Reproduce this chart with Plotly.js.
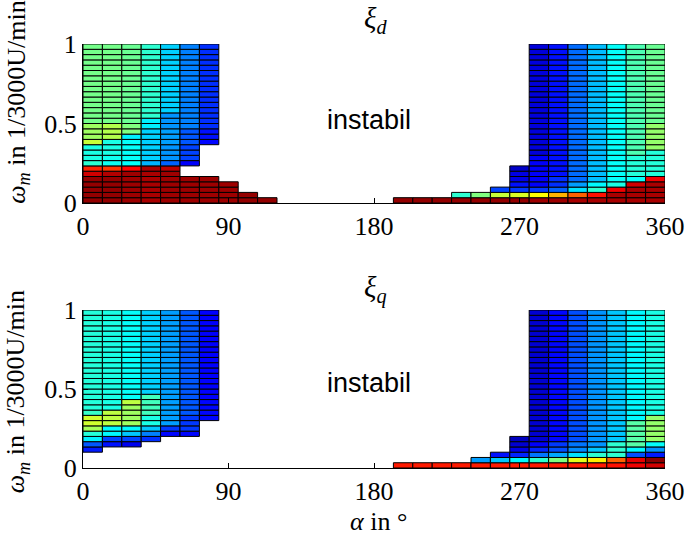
<!DOCTYPE html>
<html>
<head>
<meta charset="utf-8">
<script src="https://cdn.plot.ly/plotly-3.0.1.min.js"></script>
<style>
  body{margin:0;background:#fff;}
  #chart{width:685px;height:540px;}
</style>
</head>
<body>
<div id="chart"></div>
<script>
// grid steps: alpha in 12 deg columns, omega in 1/30 rows
let alpha_step = 12;
let omega_step = 1/30;
let x_ticks = [0, 90, 180, 270, 360];
let y_ticks = [0, 0.5, 1];

// one entry per alpha column, runs of [first row, last row, value] (value on jet scale 0..1)
let xi_d_cols = [
  [[0,4,0.98],[5,5,0.92],[6,6,0.84],[7,7,0.42],[8,10,0.40],[11,11,0.57],[12,14,0.53],[15,29,0.49]],
  [[0,4,0.98],[5,5,0.95],[6,6,0.82],[7,8,0.39],[9,11,0.40],[12,14,0.55],[15,29,0.49]],
  [[0,5,0.97],[6,6,0.87],[7,11,0.38],[12,12,0.36],[13,14,0.50],[15,29,0.48]],
  [[0,6,0.96],[7,7,0.30],[8,13,0.33],[14,15,0.36],[16,29,0.42]],
  [[0,5,0.97],[6,6,0.94],[7,7,0.22],[8,10,0.27],[11,13,0.28],[14,16,0.27],[17,29,0.33]],
  [[0,4,0.97],[7,7,0.12],[8,10,0.19],[11,13,0.21],[14,29,0.25]],
  [[0,4,0.97],[11,11,0.13],[12,13,0.14],[14,29,0.17]],
  [[0,3,0.97]],
  [[0,1,0.98]],
  [[0,0,0.98]],
  [], [], [], [], [], [],
  [[0,0,0.98]],
  [[0,0,0.98]],
  [[0,0,0.98]],
  [[0,0,0.98],[1,1,0.42]],
  [[0,0,0.98],[1,1,0.50]],
  [[0,0,0.98],[1,1,0.57],[2,2,0.19]],
  [[0,0,0.98],[1,1,0.59],[2,2,0.18],[3,3,0.14],[4,5,0.10],[6,6,0.07]],
  [[0,0,0.97],[1,1,0.625],[2,2,0.18],[3,8,0.12],[9,29,0.09]],
  [[0,0,0.97],[1,1,0.70],[2,2,0.22],[3,4,0.17],[5,29,0.14]],
  [[0,0,0.96],[1,1,0.78],[2,2,0.35],[3,3,0.28],[4,29,0.23]],
  [[0,0,0.96],[1,1,0.86],[2,2,0.42],[3,3,0.37],[4,29,0.31]],
  [[0,1,0.96],[2,2,0.89],[3,3,0.40],[4,29,0.38]],
  [[0,2,0.96],[3,3,0.92],[4,4,0.38],[5,8,0.41],[9,29,0.45]],
  [[0,3,0.96],[4,4,0.89],[5,9,0.41],[10,14,0.52],[15,29,0.48]]
];

let xi_q_cols = [
  [[3,3,0.15],[4,4,0.21],[5,5,0.36],[6,6,0.41],[7,7,0.54],[8,9,0.58],[10,10,0.43],[11,29,0.41]],
  [[4,4,0.14],[5,5,0.19],[6,7,0.37],[8,10,0.56],[11,29,0.40]],
  [[4,4,0.11],[5,5,0.19],[6,6,0.32],[7,7,0.37],[8,11,0.53],[12,12,0.56],[13,29,0.38]],
  [[5,5,0.17],[6,6,0.25],[7,7,0.32],[8,9,0.40],[10,13,0.44],[14,29,0.33]],
  [[6,6,0.13],[7,7,0.18],[8,29,0.28]],
  [[6,6,0.13],[7,9,0.18],[10,29,0.21]],
  [[9,12,0.13],[13,29,0.125]],
  [], [], [], [], [], [], [], [], [],
  [[0,0,0.85]],
  [[0,0,0.85]],
  [[0,0,0.85]],
  [[0,0,0.85]],
  [[0,0,0.85],[1,1,0.28]],
  [[0,0,0.85],[1,1,0.32],[2,2,0.14]],
  [[0,0,0.85],[1,1,0.37],[2,2,0.16],[3,3,0.10],[4,4,0.08],[5,5,0.06]],
  [[0,0,0.85],[1,1,0.42],[2,2,0.24],[3,3,0.16],[4,4,0.12],[5,29,0.08]],
  [[0,0,0.85],[1,1,0.50],[2,2,0.29],[3,3,0.20],[4,4,0.18],[5,29,0.13]],
  [[0,0,0.85],[1,1,0.60],[2,2,0.35],[3,3,0.26],[4,4,0.24],[5,29,0.20]],
  [[0,0,0.85],[1,1,0.64],[2,2,0.42],[3,3,0.32],[4,29,0.27]],
  [[0,0,0.86],[1,1,0.78],[2,2,0.42],[3,4,0.42],[5,29,0.32]],
  [[0,0,0.89],[1,1,0.90],[2,2,0.20],[3,3,0.37],[4,8,0.46],[9,29,0.37]],
  [[0,0,0.92],[1,1,0.99],[2,2,0.15],[3,3,0.27],[4,4,0.38],[5,9,0.52],[10,29,0.40]]
];

// matlab jet
let jet = [
  [0, '#000080'], [0.125, '#0000ff'], [0.375, '#00ffff'],
  [0.625, '#ffff00'], [0.875, '#ff0000'], [1, '#800000']
];

function cells(cols){
  let x = [], base = [], h = [], c = [];
  cols.forEach((runs, col) => {
    runs.forEach(r => {
      for(let row = r[0]; row <= r[1]; row++){
        x.push(col*alpha_step + alpha_step/2);
        base.push(row*omega_step);
        h.push(omega_step);
        c.push(r[2]);
      }
    });
  });
  return {x, base, h, c};
}

function grid_trace(cols, xa, ya){
  let d = cells(cols);
  return {
    type: 'bar',
    x: d.x, y: d.h, base: d.base,
    width: alpha_step,
    xaxis: xa, yaxis: ya,
    cliponaxis: false,
    hoverinfo: 'skip',
    showlegend: false,
    marker: {
      color: d.c, colorscale: jet, cmin: 0, cmax: 1,
      line: {color: '#000', width: 1}
    }
  };
}

let tick_font = {family: 'Liberation Serif, serif', size: 26, color: '#000'};

function x_axis(anchor){
  return {
    anchor: anchor, domain: [0, 1], range: [0, 360],
    tickvals: x_ticks, ticktext: x_ticks.map(String),
    ticks: 'inside', ticklen: 5, tickcolor: '#000',
    showline: true, linecolor: '#000', linewidth: 1,
    showgrid: false, zeroline: false, tickfont: tick_font
  };
}
function y_axis(anchor, dom){
  return {
    anchor: anchor, domain: dom, range: [0, 1],
    tickvals: y_ticks, ticktext: ['0', '0.5', '1'],
    ticks: 'inside', ticklen: 5, tickcolor: '#000',
    showline: true, linecolor: '#000', linewidth: 1,
    showgrid: false, zeroline: false, tickfont: tick_font
  };
}

let serif = {family: 'Liberation Serif, serif', size: 26, color: '#000'};
let title_font = {family: 'Liberation Serif, serif', size: 29, color: '#000'};
let sans = {family: 'Liberation Sans, Arial, sans-serif', size: 27, color: '#000'};
let y_label = '<i>ω<sub>m</sub></i> in 1/3000U/min';

let layout = {
  width: 685, height: 540,
  margin: {l: 83, r: 20, t: 44, b: 72},
  paper_bgcolor: '#fff', plot_bgcolor: '#fff',
  barmode: 'overlay',
  xaxis: x_axis('y'),
  yaxis: y_axis('x', [0.625, 1]),
  xaxis2: x_axis('y2'),
  yaxis2: y_axis('x2', [0, 0.3726]),
  annotations: [
    {xref: 'paper', yref: 'paper', x: 0.502, y: 1.057, text: '<i>ξ<sub>d</sub></i>', showarrow: false, font: title_font, xanchor: 'center', yanchor: 'middle'},
    {xref: 'paper', yref: 'paper', x: 0.502, y: 0.42, text: '<i>ξ<sub>q</sub></i>', showarrow: false, font: title_font, xanchor: 'center', yanchor: 'middle'},
    {xref: 'x', yref: 'y', x: 177, y: 0.52, text: 'instabil', showarrow: false, font: sans},
    {xref: 'x2', yref: 'y2', x: 177, y: 0.54, text: 'instabil', showarrow: false, font: sans},
    {xref: 'paper', yref: 'paper', x: -0.113, y: 0.862, text: y_label, textangle: -90, showarrow: false, font: serif, xanchor: 'center', yanchor: 'middle'},
    {xref: 'paper', yref: 'paper', x: -0.113, y: 0.179, text: y_label, textangle: -90, showarrow: false, font: serif, xanchor: 'center', yanchor: 'middle'},
    {xref: 'paper', yref: 'paper', x: 0.508, y: -0.127, text: '<i>α</i> in °', showarrow: false, font: serif, xanchor: 'center', yanchor: 'middle'}
  ]
};

Plotly.react('chart', [
  grid_trace(xi_d_cols, 'x', 'y'),
  grid_trace(xi_q_cols, 'x2', 'y2')
], layout, {displayModeBar: false, responsive: false});
</script>
</body>
</html>
